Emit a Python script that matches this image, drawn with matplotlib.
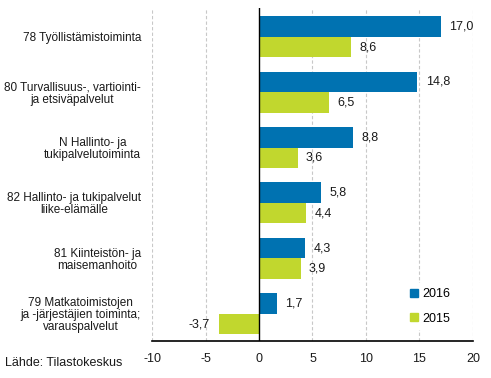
import matplotlib.pyplot as plt
from matplotlib.lines import Line2D
import matplotlib

matplotlib.rcParams['font.family'] = ['Liberation Sans', 'DejaVu Sans']

# data
categories = [
    '78 Työllistämistoiminta',
    '80 Turvallisuus-, vartiointi-\nja etsiväpalvelut',
    'N Hallinto- ja\ntukipalvelutoiminta',
    '82 Hallinto- ja tukipalvelut\nliike-elämälle',
    '81 Kiinteistön- ja\nmaisemanhoito',
    '79 Matkatoimistojen\nja -järjestäjien toiminta;\nvarauspalvelut',
]
values_2016 = [17.0, 14.8, 8.8, 5.8, 4.3, 1.7]
values_2015 = [8.6, 6.5, 3.6, 4.4, 3.9, -3.7]
x_ticks = [-10, -5, 0, 5, 10, 15, 20]

blue = '#0072B1'
green = '#C1D72E'
fs = 9

fig = plt.figure(figsize=(4.91, 3.78), dpi=100)
ax = fig.add_axes([0.3096, 0.098, 0.6537, 0.881])

pos = list(range(len(categories)))
h = 0.37
ax.barh([p - h / 2 for p in pos], values_2016, height=h, color=blue, zorder=3)
ax.barh([p + h / 2 for p in pos], values_2015, height=h, color=green, zorder=3)


def fmt(v):
    return f'{v:.1f}'.replace('.', ',')


for p, v in zip(pos, values_2016):
    ax.annotate(fmt(v), (v, p - h / 2), xytext=(6 if v >= 0 else -7, 0),
                textcoords='offset points', va='center',
                ha='left' if v >= 0 else 'right', fontsize=fs, color='#1a1a1a')
for p, v in zip(pos, values_2015):
    ax.annotate(fmt(v), (v, p + h / 2), xytext=(6 if v >= 0 else -7, 0),
                textcoords='offset points', va='center',
                ha='left' if v >= 0 else 'right', fontsize=fs, color='#1a1a1a')

ax.set_xlim(-10, 20)
ax.set_ylim(5.49, -0.52)
ax.set_xticks(x_ticks)
ax.set_xticklabels([str(t) for t in x_ticks], fontsize=fs, color='#1a1a1a')
ax.set_yticks(pos)
ax.set_yticklabels(categories, fontsize=8.5, color='#1a1a1a',
                   multialignment='center', linespacing=1.0)
ax.tick_params(axis='both', length=0)
ax.tick_params(axis='x', pad=9)
ax.tick_params(axis='y', pad=8)

for t in x_ticks:
    if t != 0:
        ax.axvline(t, color='#c8c8c8', linestyle=(0, (3, 2)), linewidth=0.8, zorder=1)
ax.axvline(0, color='black', linewidth=1.0, zorder=4)

for s in ['top', 'right', 'left']:
    ax.spines[s].set_visible(False)
ax.spines['bottom'].set_linewidth(1.2)

handles = [
    Line2D([], [], marker='s', linestyle='', color=blue, markersize=5.5, label='2016'),
    Line2D([], [], marker='s', linestyle='', color=green, markersize=5.5, label='2015'),
]
leg = ax.legend(handles=handles, loc='lower right', bbox_to_anchor=(0.965, 0.015),
                frameon=True, fontsize=fs, handlelength=0.8, handletextpad=0.3,
                labelspacing=1.0, borderpad=0.4)
leg.get_frame().set_edgecolor('none')
leg.get_frame().set_facecolor('white')
leg.get_frame().set_alpha(1)
leg.set_zorder(5)

fig.text(0.01, 0.04, 'Lähde: Tilastokeskus', fontsize=fs, color='#1a1a1a', va='center')

plt.savefig('out.png', dpi=100)
